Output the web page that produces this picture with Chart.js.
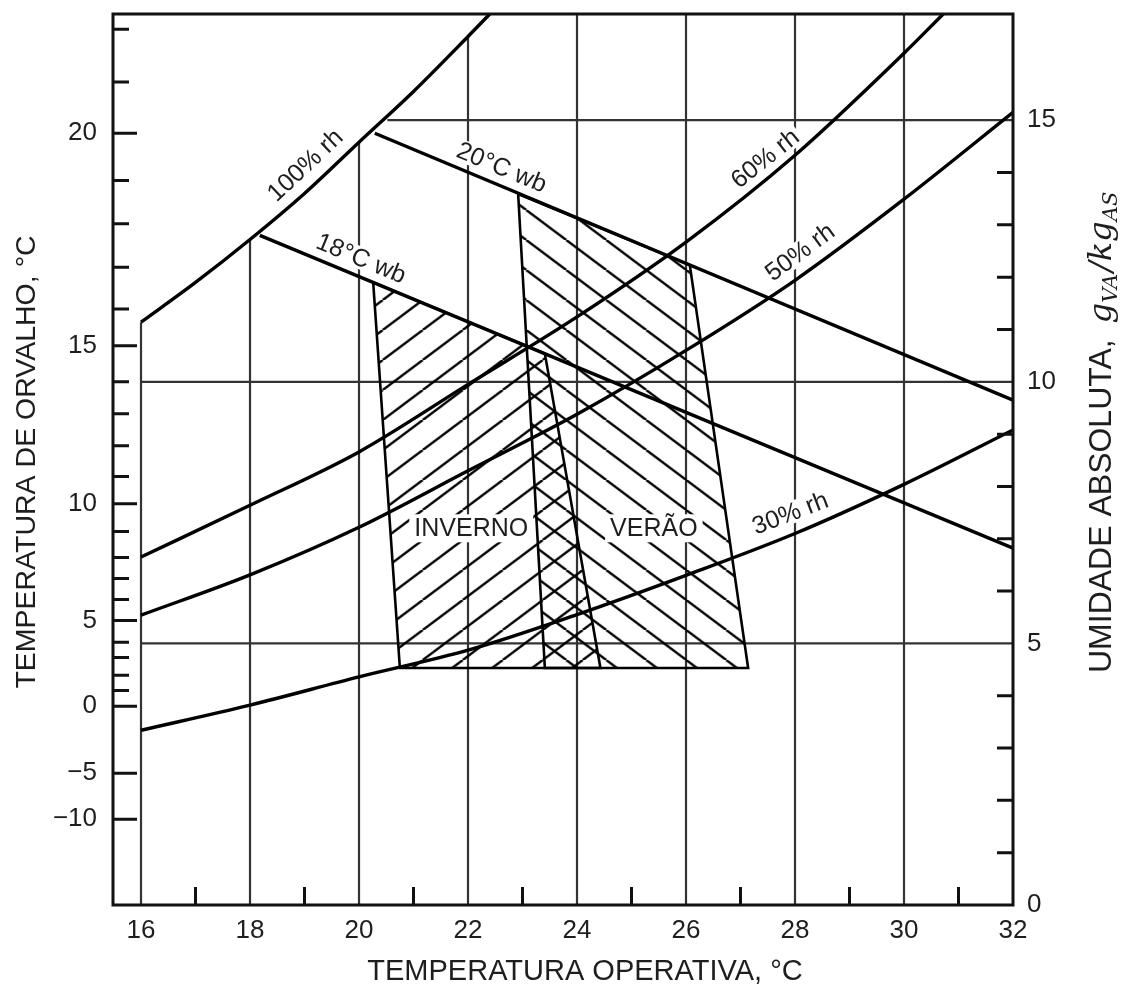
<!DOCTYPE html>
<html><head><meta charset="utf-8">
<script src="https://cdn.jsdelivr.net/npm/chart.js@4.4.1/dist/chart.umd.min.js"></script>
<style>html,body{margin:0;padding:0;background:#fff;}canvas{display:block;}</style>
</head><body>
<canvas id="c" width="1121" height="985"></canvas>
<script>
// ---------------- data ----------------
const xTicks = [16,18,20,22,24,26,28,30,32];
const xMinorTicks = [17,19,21,23,25,27,29,31];
const rightTicks = [0,5,10,15];
const rightMinorTicks = [1,2,3,4,6,7,8,9,11,12,13,14];
const dewLabels = ['20','15','10','5','0','−5','−10'];
const dewLabelW = [14.75,10.69,7.67,5.44,3.80,2.52,1.64];
const dewMinorW = [16.74,15.73,13.85,13.02,12.19,11.39,10.0,9.39,8.78,8.19,7.14,6.64,6.24,5.84,5.02,4.73,4.39,4.10];

const rh100T = [16,17,18,19,20,21,22,22.4];
const rh100W = [11.14,11.9,12.72,13.6,14.58,15.55,16.6,17.03];
const rh60T = [16,18,20,22,24,26,28,30,30.72];
const rh60W = [6.65,7.64,8.66,9.95,11.24,12.67,14.33,16.28,17.03];
const rh50T = [16,18,20,22,24,26,28,30,32];
const rh50W = [5.54,6.31,7.22,8.3,9.38,10.6,11.94,13.49,15.15];
const rh30T = [16,18,20,22,24,26,28,30,32];
const rh30W = [3.34,3.82,4.36,4.87,5.55,6.3,7.1,8.04,9.08];
const wb20T = [20.29,32];
const wb20W = [14.75,9.65];
const wb18T = [18.18,32];
const wb18W = [12.8,6.82];

const winterT = [20.26,23.41,24.43,20.75];
const winterW = [11.9,10.54,4.53,4.53];
const summerT = [22.92,26.07,27.14,23.41];
const summerW = [13.59,12.23,4.53,4.53];

const gridX = [16,18,20,22,24,26,28,30];
const gridXTop = [11.14,12.72,14.58,16.6,17.03,17.03,17.03,17.03];
const gridW = [5,10,15];
const gridWStart = [16,16,20.52];
const gridWEnd = [32,32,32];

const curveLabelText = ['100% rh','60% rh','50% rh','30% rh','20°C wb','18°C wb'];
const curveLabelKey = ['rh100','rh60','rh50','rh30','wb20','wb18'];
const curveLabelT = [19.01,27.45,28.09,27.91,22.62,20.04];
const curveLabelW = [14.14,14.27,12.48,7.49,14.1,12.36];
const zoneLabelText = ['INVERNO','VERÃO'];
const zoneLabelT = [22.06,25.41];
const zoneLabelW = [7.2,7.2];

// ---------------- helpers ----------------
const curves = {rh100:[rh100T,rh100W], rh60:[rh60T,rh60W], rh50:[rh50T,rh50W], rh30:[rh30T,rh30W], wb20:[wb20T,wb20W], wb18:[wb18T,wb18W]};
const pts = (T,W) => T.map((t,i)=>({x:t,y:W[i]}));
const closed = (T,W) => { const p = pts(T,W); p.push({x:T[0],y:W[0]}); return p; };

const canvas = document.getElementById('c');
const ctx0 = canvas.getContext('2d');
function makeHatch(dir, dx){
  const t = document.createElement('canvas'); t.width = 40; t.height = 30;
  const g = t.getContext('2d');
  g.strokeStyle = '#000'; g.lineWidth = 2.4;
  for (let k=-1;k<=1;k++){
    g.beginPath();
    if (dir === '/') { g.moveTo(k*40,30); g.lineTo(40+k*40,0); }
    else { g.moveTo(k*40,0); g.lineTo(40+k*40,30); }
    g.stroke();
  }
  const p = ctx0.createPattern(t,'repeat');
  p.setTransform(new DOMMatrix([1,0,0,1,dx,0]));
  return p;
}
const hatchWinter = makeHatch('/', 22.7);
const hatchSummer = makeHatch('\\', 6.3);

const base = {showLine:true, pointRadius:0, pointHoverRadius:0, fill:false, tension:0, borderColor:'#000'};
const datasets = [];
gridX.forEach((gx,i)=>datasets.push(Object.assign({}, base, {
  data:[{x:gx,y:0},{x:gx,y:gridXTop[i]}], borderColor:'#333', borderWidth:2.2, order:30})));
gridW.forEach((w,i)=>datasets.push(Object.assign({}, base, {
  data:[{x:gridWStart[i],y:w},{x:gridWEnd[i],y:w}], borderColor:'#333', borderWidth:2.2, order:30})));
datasets.push(Object.assign({}, base, {data:closed(winterT,winterW), fill:'shape', backgroundColor:hatchWinter, borderWidth:2.6, borderJoinStyle:'miter', order:20}));
datasets.push(Object.assign({}, base, {data:closed(summerT,summerW), fill:'shape', backgroundColor:hatchSummer, borderWidth:2.6, borderJoinStyle:'miter', order:20}));
['rh100','rh60','rh50','rh30'].forEach(k=>datasets.push(Object.assign({}, base, {
  data:pts(curves[k][0],curves[k][1]), borderWidth:3.4, cubicInterpolationMode:'monotone', order:10})));
['wb20','wb18'].forEach(k=>datasets.push(Object.assign({}, base, {
  data:pts(curves[k][0],curves[k][1]), borderWidth:3.4, order:10})));

const FONT = '"Liberation Sans", Arial, sans-serif';
const TXT = '#1e1e1e';

function angleAt(chart, key, t){
  const {x,y} = chart.scales; const [T,W] = curves[key];
  let i = 0; while (i < T.length-2 && T[i+1] < t) i++;
  const x0=x.getPixelForValue(T[i]), y0=y.getPixelForValue(W[i]);
  const x1=x.getPixelForValue(T[i+1]), y1=y.getPixelForValue(W[i+1]);
  return Math.atan2(y1-y0, x1-x0);
}

const decor = {
  id:'decor',
  afterDatasetsDraw(chart){
    const {ctx, scales:{x,y}} = chart;
    ctx.save();
    ctx.textAlign='center'; ctx.textBaseline='middle';
    ctx.font = '25px ' + FONT;
    curveLabelText.forEach((txt,i)=>{
      const px = x.getPixelForValue(curveLabelT[i]), py = y.getPixelForValue(curveLabelW[i]);
      ctx.save(); ctx.translate(px,py); ctx.rotate(angleAt(chart, curveLabelKey[i], curveLabelT[i]));
      const w = ctx.measureText(txt).width;
      ctx.fillStyle='#fff'; ctx.fillRect(-w/2-3,-11,w+6,22);
      ctx.fillStyle=TXT; ctx.fillText(txt,0,1);
      ctx.restore();
    });
    zoneLabelText.forEach((txt,i)=>{
      const px = x.getPixelForValue(zoneLabelT[i]), py = y.getPixelForValue(zoneLabelW[i]);
      const w = ctx.measureText(txt).width;
      ctx.fillStyle='#fff'; ctx.fillRect(px-w/2-5,py-14,w+10,28);
      ctx.fillStyle=TXT; ctx.fillText(txt,px,py+1);
    });
    ctx.restore();
  },
  afterDraw(chart){
    const {ctx, chartArea:a, scales:{x,y,y2}} = chart;
    ctx.save();
    ctx.strokeStyle='#111'; ctx.lineWidth=3;
    ctx.strokeRect(a.left, a.top, a.right-a.left, a.bottom-a.top);
    ctx.lineWidth=3; ctx.beginPath();
    dewLabelW.forEach(v=>{ const p=y.getPixelForValue(v); ctx.moveTo(a.left,p); ctx.lineTo(a.left+24,p); });
    dewMinorW.forEach(v=>{ const p=y.getPixelForValue(v); ctx.moveTo(a.left,p); ctx.lineTo(a.left+16,p); });
    rightMinorTicks.forEach(v=>{ const p=y2.getPixelForValue(v); ctx.moveTo(a.right-16,p); ctx.lineTo(a.right,p); });
    xMinorTicks.forEach(v=>{ const p=x.getPixelForValue(v); ctx.moveTo(p,a.bottom); ctx.lineTo(p,a.bottom-18); });
    ctx.stroke();
    // titles
    ctx.fillStyle=TXT; ctx.textBaseline='middle';
    ctx.font='29px '+FONT; ctx.textAlign='center';
    ctx.fillText('TEMPERATURA OPERATIVA, °C', 585, 972);
    ctx.save(); ctx.translate(27,462); ctx.rotate(-Math.PI/2);
    ctx.font='28.5px '+FONT; ctx.fillText('TEMPERATURA DE ORVALHO, °C',0,0); ctx.restore();
    // right title with subscripts
    ctx.save(); ctx.translate(1111,673); ctx.rotate(-Math.PI/2);
    ctx.textAlign='left'; ctx.textBaseline='alphabetic';
    ctx.font='32px '+FONT;
    let s='UMIDADE ABSOLUTA,'; ctx.fillText(s,0,0);
    let cx = ctx.measureText(s).width + 16;
    const big='italic 32px "DejaVu Serif", serif', small='italic 21px "DejaVu Serif", serif';
    const parts=[['g',big,0],['VA',small,6],['/',big,0],['kg',big,0],['AS',small,6]];
    parts.forEach(([t,f,dy])=>{ ctx.font=f; ctx.fillText(t,cx,dy); cx += ctx.measureText(t).width + (f===small?2:0); });
    ctx.restore();
    ctx.restore();
  }
};

const tickFont = {family:FONT, size:26};
const noGrid = {display:false, drawTicks:false};
new Chart(canvas, {
  type:'scatter',
  data:{datasets},
  options:{
    responsive:false, animation:false, events:[],
    layout:{padding:{top:14,left:0,right:0,bottom:0}},
    plugins:{legend:{display:false}, tooltip:{enabled:false}},
    scales:{
      x:{type:'linear', position:'bottom', min:15.486, max:32,
        afterBuildTicks:s=>{ s.ticks = xTicks.map(v=>({value:v})); },
        afterFit:s=>{ s.height = 80; s.paddingLeft = 0; s.paddingRight = 0; },
        grid:noGrid, border:{display:false},
        ticks:{padding:10, color:TXT, font:tickFont, autoSkip:false, maxRotation:0, callback:v=>String(v)}},
      y:{type:'linear', position:'left', min:0, max:17.03,
        afterBuildTicks:s=>{ s.ticks = dewLabelW.map(v=>({value:v})); },
        afterFit:s=>{ s.width = 113; s.paddingTop = 0; s.paddingBottom = 0; },
        grid:noGrid, border:{display:false},
        ticks:{padding:16, color:TXT, font:tickFont, autoSkip:false, callback:(v,i)=>dewLabels[i]}},
      y2:{type:'linear', position:'right', min:0, max:17.03,
        afterBuildTicks:s=>{ s.ticks = rightTicks.map(v=>({value:v})); },
        afterFit:s=>{ s.width = 108; s.paddingTop = 0; s.paddingBottom = 0; },
        grid:noGrid, border:{display:false},
        ticks:{padding:14, color:TXT, font:tickFont, autoSkip:false, callback:v=>String(v)}}
    }
  },
  plugins:[decor]
});
</script>
</body></html>
